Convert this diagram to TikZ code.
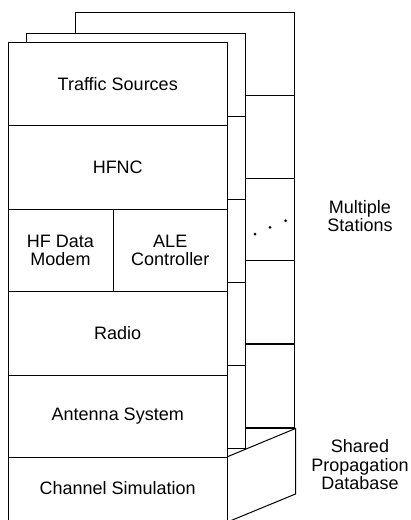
\documentclass[tikz,border=0pt]{standalone}
\usepackage{fontspec}
\setmainfont{Liberation Sans}
\begin{document}
\begin{tikzpicture}[x=1pt,y=-1pt,line width=1pt,
  box/.style={draw,fill=white,rectangle,inner sep=0pt,align=center,
    font=\fontsize{18}{18.5}\selectfont},
  lbl/.style={inner sep=0pt,align=center,font=\fontsize{18}{18.5}\selectfont},
  dotmark/.style={fill=black}]
\useasboundingbox (0,0) rectangle (411,520);
\clip (0,0) rectangle (411,520);
% third (rearmost) station
\node[box,minimum width=219,minimum height=82.7] (p3a) at (184.5,53.7) {};
\node[box,minimum width=219,minimum height=83.3] (p3b) at (184.5,136.7) {};
\node[box,minimum width=219,minimum height=82.4] (p3c) at (184.5,219.5) {};
\node[box,minimum width=219,minimum height=83.3] (p3d) at (184.5,302.3) {};
\node[box,minimum width=219,minimum height=83.3] (p3e) at (184.5,385.7) {};
\draw[line width=1.7pt] (p3e.south west) -- (p3e.south east);
% second station
\node[box,minimum width=219.3,minimum height=83.4] (p2a) at (136.3,75) {};
\node[box,minimum width=219.3,minimum height=82.6] (p2b) at (136.3,158) {};
\node[box,minimum width=219.3,minimum height=83.4] (p2c) at (136.3,241) {};
\node[box,minimum width=219.3,minimum height=83] (p2d) at (136.3,324.2) {};
\node[box,minimum width=219.3,minimum height=82.8] (p2e) at (136.3,407.1) {};
% shared database side face
\coordinate (dbtl) at (227.5,456.7);
\coordinate (dbtr) at (295.5,428.5);
\coordinate (dbbr) at (295.5,494);
\coordinate (dbbl) at (227.5,522);
\draw[fill=white] (dbtl) -- (dbtr) -- (dbbr) -- (dbbl);
% front station
\node[box,minimum width=219.5,minimum height=83] (traffic) at (117.75,84.2) {Traffic Sources};
\node[box,minimum width=219.5,minimum height=83.3] (hfnc) at (117.75,167.35) {HFNC};
\node[box,minimum width=105,minimum height=82.7] (modem) at (60.5,250.35) {HF Data\\Modem};
\node[box,minimum width=114.5,minimum height=82.7] (ale) at (170.25,250.35) {ALE\\Controller};
\node[box,minimum width=219.5,minimum height=83.3] (radio) at (117.75,333.35) {Radio};
\node[box,minimum width=219.5,minimum height=82.7] (antenna) at (117.75,416.35) {Antenna System};
\node[box,minimum width=219.5,minimum height=64.3,text depth=0pt] (channel) at (117.75,489.85) {\raisebox{3pt}{Channel Simulation}};
% ellipsis dots
\fill[dotmark] (255,234) circle (1.5);
\fill[dotmark] (270,227.3) circle (1.5);
\fill[dotmark] (285.7,220.7) circle (1.5);
% labels
\node[lbl] (multi) at (360,216) {Multiple\\Stations};
\node[lbl] (shared) at (360,465) {Shared\\Propagation\\Database};
\end{tikzpicture}
\end{document}
